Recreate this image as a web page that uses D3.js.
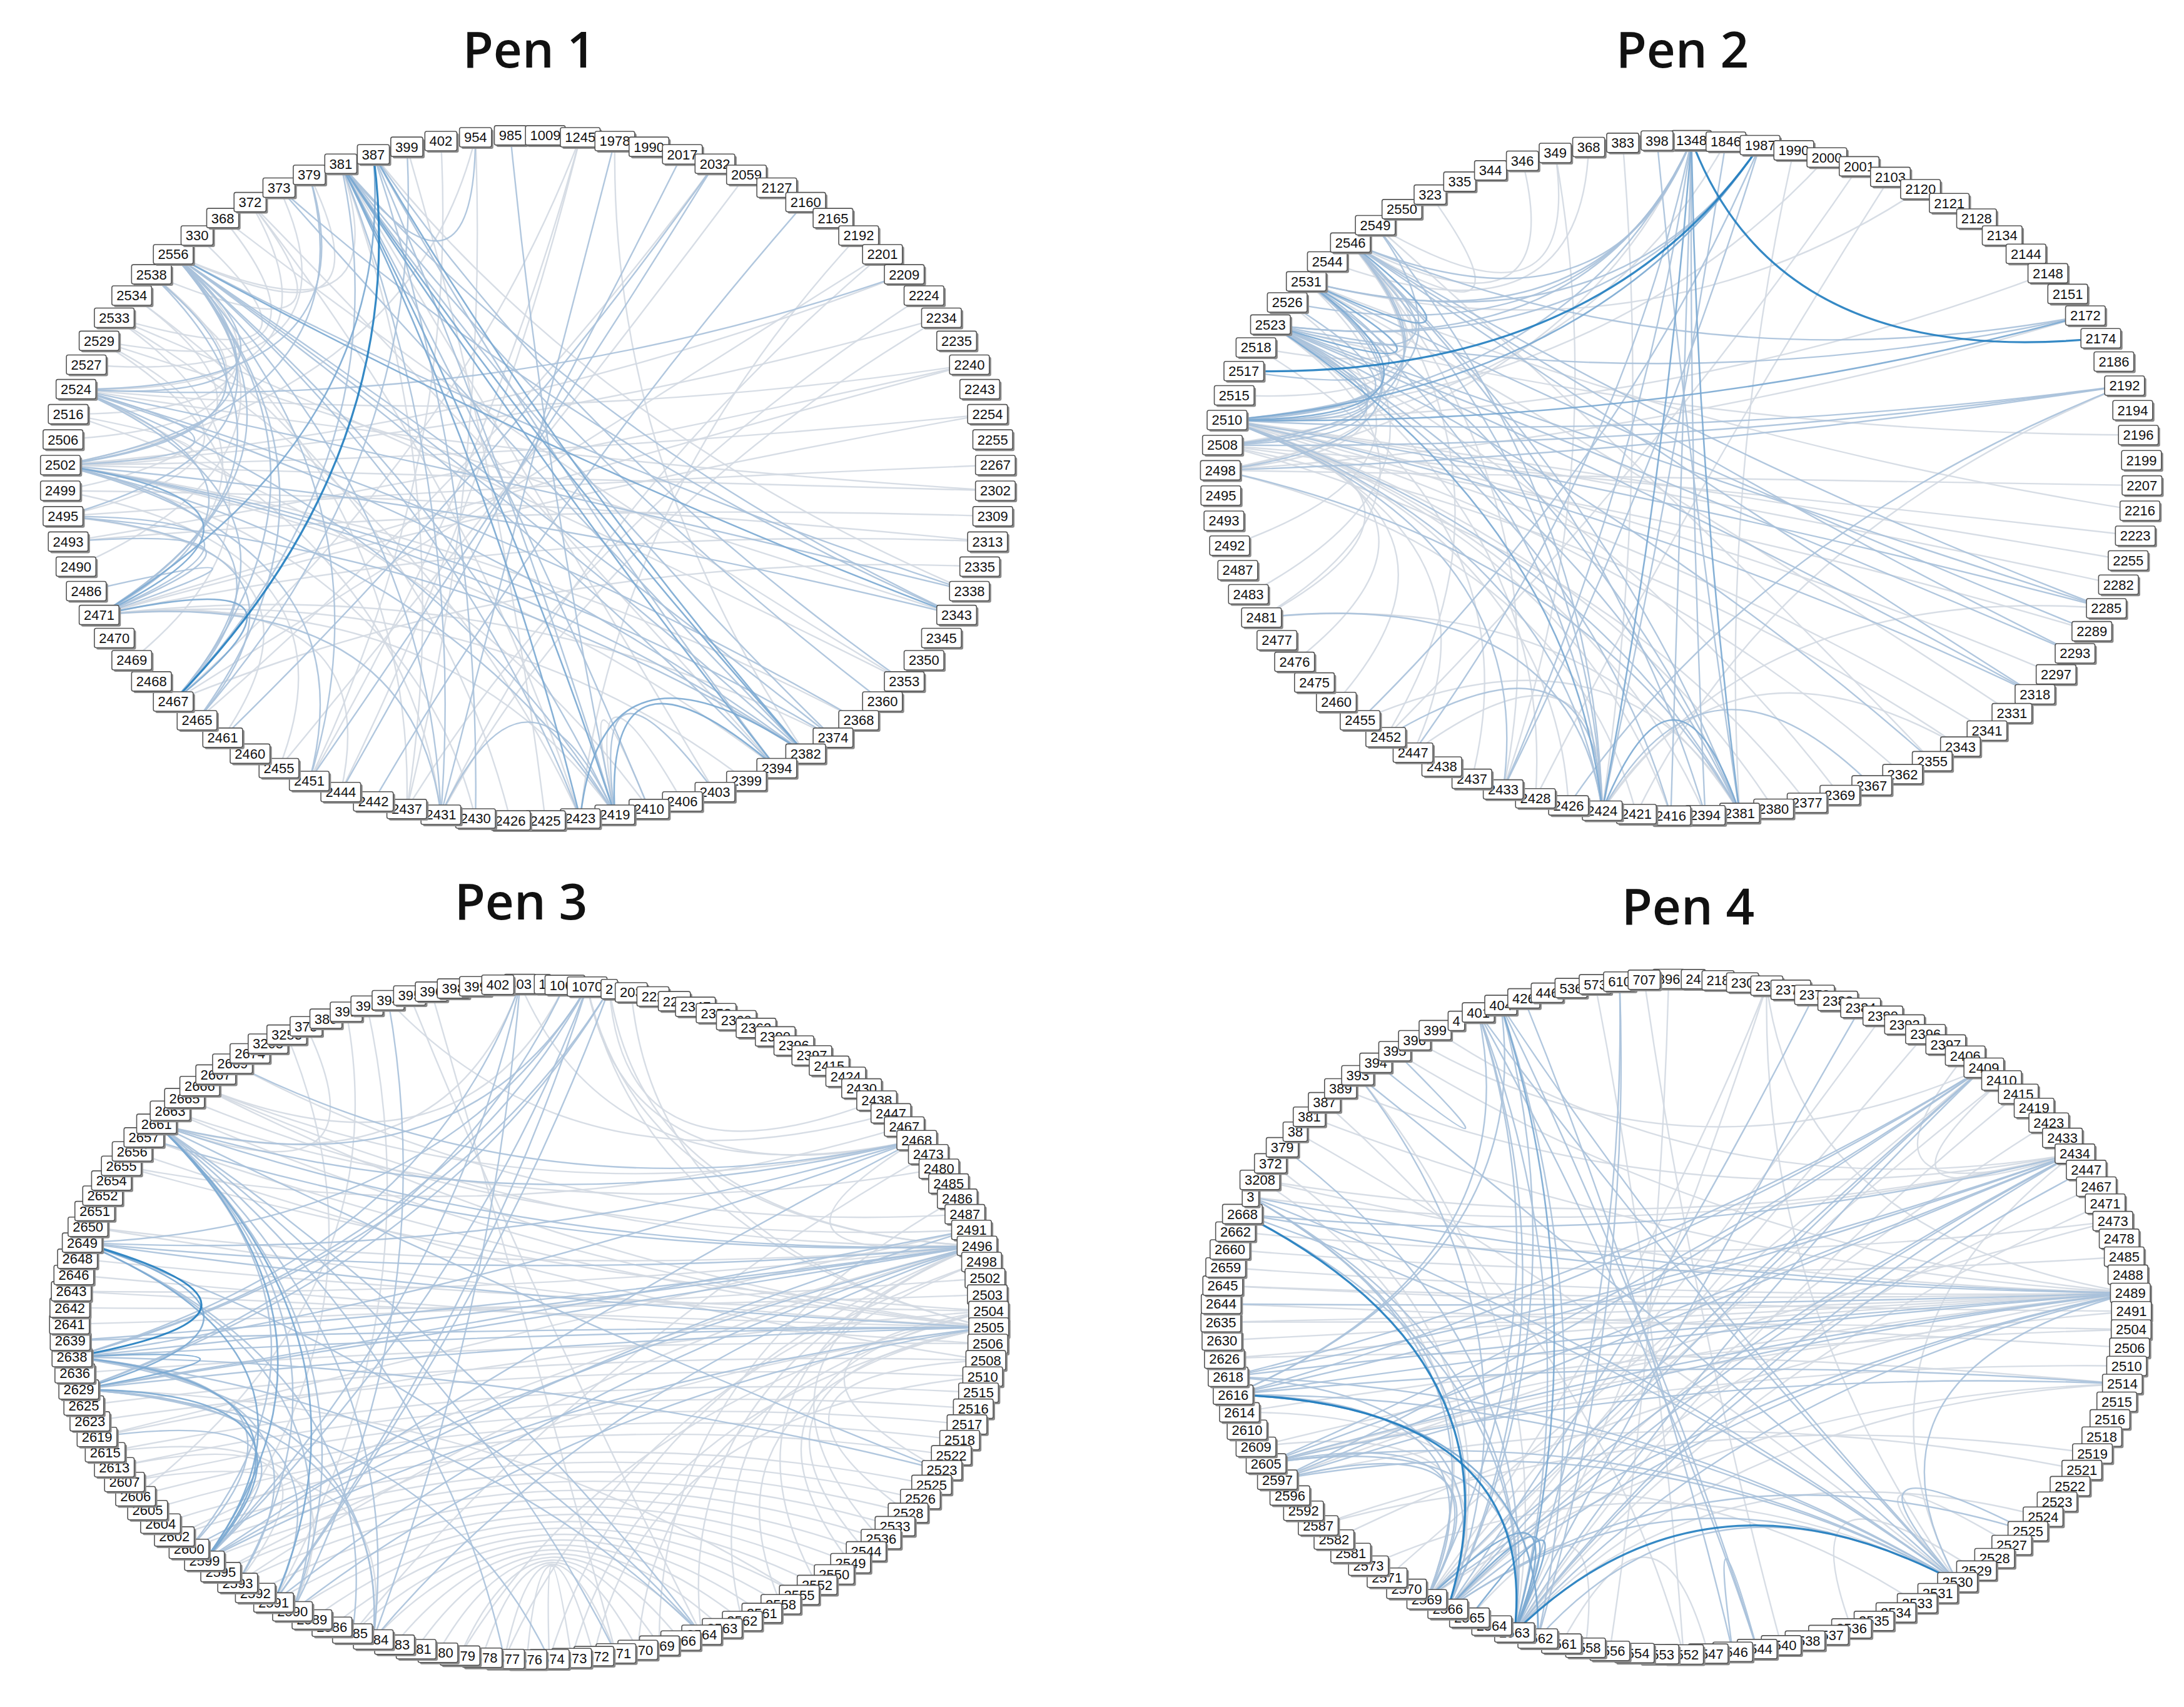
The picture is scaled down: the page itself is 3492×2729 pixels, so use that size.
<!DOCTYPE html>
<html><head><meta charset="utf-8">
<script src="https://cdn.jsdelivr.net/npm/d3@7"></script>
<style>body{margin:0;background:#fff}svg{display:block}</style>
</head><body>
<svg id="c" width="3492" height="2729"></svg>
<script>
const titles = ["Pen 1","Pen 2","Pen 3","Pen 4"];

const nodes1 = ["985","1009","1245","1978","1990","2017","2032","2059","2127","2160","2165","2192","2201","2209","2224","2234","2235","2240","2243","2254","2255","2267","2302","2309","2313","2335","2338","2343","2345","2350","2353","2360","2368","2374","2382","2394","2399","2403","2406","2410","2419","2423","2425","2426","2430","2431","2437","2442","2444","2451","2455","2460","2461","2465","2467","2468","2469","2470","2471","2486","2490","2493","2495","2499","2502","2506","2516","2524","2527","2529","2533","2534","2538","2556","330","368","372","373","379","381","387","399","402","954"];
const nodes2 = ["1348","1846","1987","1990","2000","2001","2103","2120","2121","2128","2134","2144","2148","2151","2172","2174","2186","2192","2194","2196","2199","2207","2216","2223","2255","2282","2285","2289","2293","2297","2318","2331","2341","2343","2355","2362","2367","2369","2377","2380","2381","2394","2416","2421","2424","2426","2428","2433","2437","2438","2447","2452","2455","2460","2475","2476","2477","2481","2483","2487","2492","2493","2495","2498","2508","2510","2515","2517","2518","2523","2526","2531","2544","2546","2549","2550","323","335","344","346","349","368","383","398"];
const nodes3 = ["403","1","1068","1070","2","203","222","225","2347","2358","2360","2362","2390","2396","2397","2415","2424","2430","2438","2447","2467","2468","2473","2480","2485","2486","2487","2491","2496","2498","2502","2503","2504","2505","2506","2508","2510","2515","2516","2517","2518","2522","2523","2525","2526","2528","2533","2536","2544","2549","2550","2552","2555","2558","2561","2562","2563","2564","2566","2569","2570","2571","2572","2573","2574","2576","2577","2578","2579","2580","2581","2583","2584","2585","2586","2589","2590","2591","2592","2593","2595","2599","2600","2602","2604","2605","2606","2607","2613","2615","2619","2623","2625","2629","2636","2638","2639","2641","2642","2643","2646","2648","2649","2650","2651","2652","2654","2655","2656","2657","2661","2663","2665","2666","2667","2669","2674","3208","3253","375","380","391","393","394","395","396","398","399","402"];
const nodes4 = ["896","24","218","230","236","2371","2378","2382","2384","2390","2392","2396","2397","2406","2409","2410","2415","2419","2423","2433","2434","2447","2467","2471","2473","2478","2485","2488","2489","2491","2504","2506","2510","2514","2515","2516","2518","2519","2521","2522","2523","2524","2525","2527","2528","2529","2530","2531","2533","2534","2535","2536","2537","2538","2540","2544","2546","2547","2552","2553","2554","2556","2558","2561","2562","2563","2564","2565","2566","2569","2570","2571","2573","2581","2582","2587","2592","2596","2597","2605","2609","2610","2614","2616","2618","2626","2630","2635","2644","2645","2659","2660","2662","2668","3","3208","372","379","38","381","387","389","393","394","395","396","399","4","401","404","426","446","536","573","610","707"];

const edges1 = [
["381","2382",3],["381","2394",3],["381","2374",2],["381","2360",2],["381","2343",2],["381","2419",3],["381","2423",3],["381","2431",2],["381","2437",1],["381","2410",2],["381","2467",2],["381","954",2],["381","2556",1],["381","2403",1],
["387","2382",3],["387","2394",2],["387","2419",2],["387","2467",4],["387","2471",3],["387","2353",2],["387","2338",1],["387","2430",2],
["379","2502",2],["379","2524",2],["379","2556",1],["399","2465",2],["399","2425",1],["954","2437",1],["954","2502",1],["985","2419",2],
["1245","2451",1],["1245","2444",1],["1245","2467",1],["1978","2382",1],["1978","2431",2],["2017","2444",2],["2032","2451",2],["2032","2461",2],["2032","2465",1],
["2059","2455",1],["2160","2442",2],["2192","2423",1],["2201","2467",1],["2201","2431",1],["2209","2524",2],["2209","2502",1],["2224","2437",1],["2234","2431",1],["2234","2502",1],
["2240","2493",1],["2240","2524",1],["2240","2471",1],["2254","2502",1],["2254","2471",1],["2267","2495",1],["2302","2502",1],["2302","2524",1],["2309","2493",1],["2313","2471",1],["2313","2499",1],
["2335","2467",1],["2338","2524",2],["2338","2556",2],["2343","2556",3],["2343","2502",2],["2343","2529",1],["2353","2533",1],["2368","2524",2],["2368","2502",1],
["2374","2556",2],["2374","2502",2],["2374","2471",1],["2382","2556",2],["2382","2502",2],["2382","2524",2],["2382","2495",2],["2382","2423",3],
["2394","2419",3],["2394","2502",1],["2394","2556",2],["2399","2471",1],["2403","2419",2],["2406","2419",1],["2410","2419",1],["2410","2516",1],
["2419","2556",2],["2419","2524",2],["2419","2502",2],["2419","2431",2],["2419","2471",1],["2423","2556",2],["2423","2533",1],["2426","2534",1],["2430","2502",1],
["2431","2556",2],["2431","2524",1],["2431","2471",2],["2437","2538",1],["2444","2471",1],["2451","2556",2],["2451","2502",2],["2455","2499",1],["2461","2495",1],
["2465","2556",2],["2465","2495",2],["2467","2471",3],["2467","2556",2],["2467","2524",2],["2467","2502",2],["2469","2529",1],
["2471","2556",2],["2471","2524",2],["2471","2502",3],["2471","2495",2],["2471","2493",2],["2471","2538",2],["2471","2533",1],["2471","2486",2],
["2490","2556",1],["2495","2556",2],["2495","2529",1],["2499","2534",1],["2502","2556",2],["2502","2538",2],["2502","2524",2],["2502","2516",1],
["2506","2538",1],["2516","2556",1],["2524","2556",2],["2524","372",1],["2527","373",1],["2529","368",1],["2533","330",1],["2538","372",1],
["373","2382",2],["373","2343",2],["372","2423",1],["372","2394",1],["368","2353",1],["402","2451",1]
];
const edges2 = [
["1348","2174",4],["1348","2424",3],["1348","2381",3],["1348","2394",2],["1348","2416",2],["1348","2510",2],["1348","2523",2],["1348","2531",2],["1348","2546",2],["1348","2498",1],["1348","2447",2],["1348","2433",2],
["1987","2517",4],["1987","2510",3],["1987","2523",2],["1987","2531",2],["1987","2455",2],["1987","2433",2],["1846","2424",2],["1846","2508",1],["1990","2381",1],["2000","2510",1],["2001","2452",1],["2103","2428",1],["2120","2531",1],["2148","2510",1],
["2172","2510",3],["2172","2523",2],["2172","2546",2],["2172","2498",1],["2192","2510",2],["2192","2508",2],["2192","2498",2],["2192","2426",2],["2192","2421",1],
["2196","2523",1],["2207","2498",1],["2216","2531",1],["2223","2508",1],["2255","2510",1],["2282","2510",1],["2285","2510",2],["2285","2523",2],["2285","2546",2],["2285","2424",1],
["2289","2531",2],["2289","2508",1],["2293","2546",2],["2293","2523",2],["2297","2510",1],["2318","2523",2],["2318","2546",2],["2318","2510",2],["2331","2531",1],["2341","2510",1],
["2343","2508",1],["2343","2424",1],["2355","2523",2],["2355","2549",1],["2362","2510",1],["2367","2424",2],["2369","2523",1],["2377","2508",1],["2380","2510",1],
["2381","2424",3],["2381","2510",2],["2381","2546",2],["2381","2523",2],["2381","2531",2],["2381","2498",2],["2381","2481",1],["2381","2455",1],["2394","2546",2],["2394","2510",1],
["2416","2523",2],["2416","2510",1],["2421","2498",1],["2424","2546",2],["2424","2531",2],["2424","2510",2],["2424","2523",3],["2424","2549",2],["2424","2481",2],["2424","2452",2],["2424","2447",1],
["2426","2510",1],["2428","2523",1],["2433","2510",2],["2433","2546",1],["2437","2518",1],["2447","2510",1],["2452","2546",1],["2460","2510",1],["2476","2510",1],["2481","2523",1],["2481","2510",1],
["2483","2531",1],["2492","2526",1],["2498","2531",2],["2498","2546",1],["2498","2523",1],["2508","2546",2],["2508","2531",2],["2508","2523",2],
["2510","2531",3],["2510","2546",2],["2510","2549",2],["2510","2523",2],["2510","2526",2],["2515","2546",1],["2517","2531",2],["2518","2546",1],["2523","2546",2],["2523","2531",3],["2531","2546",3],
["2546","323",1],["2546","346",1],["2544","368",1],["2549","349",1],["2526","1348",2],["398","2381",2],["383","2424",1],["349","2433",1]
];
const edges3 = [
["2661","2599",3],["2661","2591",3],["2661","2584",2],["2661","2571",2],["2661","2564",2],["2661","2523",2],["2661","2496",2],["2661","2468",2],["2661","1070",2],["2661","403",1],["2661","2600",2],["2661","2593",2],["2661","2590",2],["2661","2577",2],
["2657","2496",2],["2657","2505",1],["2656","2508",1],["2655","2504",1],["2650","2505",1],["2650","2496",1],
["2649","2638",4],["2649","2629",3],["2649","2599",3],["2649","2590",2],["2649","2585",2],["2649","2564",2],["2649","2496",2],["2649","2505",2],["2649","2468",2],["2649","1070",2],
["2648","2504",1],["2646","2506",1],["2643","2505",1],["2643","2496",1],["2642","2503",1],["2641","2502",1],["2639","2496",2],["2639","2505",2],
["2638","2629",3],["2638","2599",3],["2638","2593",2],["2638","2584",2],["2638","2564",2],["2638","2523",2],["2638","2505",2],["2638","2496",2],["2638","2468",2],["2638","1070",2],["2638","2",2],["2638","403",2],["2638","2600",2],
["2636","2506",1],["2629","2599",3],["2629","2591",2],["2629","2584",2],["2629","2574",2],["2629","2555",1],["2629","2505",2],["2629","2496",2],["2629","2491",2],["2629","1068",2],["2629","2",2],
["2625","2508",1],["2623","2510",1],["2619","2599",2],["2619","2504",1],["2619","2491",1],["2615","2590",1],["2615","2515",1],["2613","2593",1],["2613","2516",1],["2607","2517",1],["2607","2584",1],
["2606","2518",1],["2605","2522",1],["2604","2525",1],["2602","2526",1],["2602","2496",1],["2600","2528",1],["2600","2496",2],
["2599","2533",1],["2599","2505",2],["2599","2491",2],["2599","2468",2],["2599","1070",2],["2599","403",2],["2595","2536",1],["2595","2505",1],["2593","2544",1],["2593","2496",1],["2592","2549",1],
["2591","2550",1],["2591","2496",2],["2591","1070",2],["2591","2",2],["2590","2552",1],["2590","2505",2],["2590","394",2],["2589","2555",1],["2586","2558",1],["2585","2561",1],["2585","2473",1],
["2584","2562",1],["2584","2496",2],["2584","403",2],["2583","2563",1],["2581","2564",1],["2580","2566",1],["2579","2569",1],["2579","2504",1],["2578","2570",1],["2577","2571",1],["2577","2498",1],
["2576","2572",1],["2574","2573",1],["2574","2496",1],["2573","2505",1],["2572","2510",1],["2570","2504",1],["2569","2486",1],["2564","2496",1],["2564","395",1],["2562","2498",1],
["2558","2505",1],["2552","2496",1],["2549","2504",1],["2544","2505",1],["2536","2496",1],["2528","2508",1],["2523","2504",1],["2496","2468",1],["2496","2666",1],["2505","2666",1],["2505","2663",1],
["2468","2669",2],["2468","2666",1],["2468","1070",1],["2468","403",1],["2467","2655",1],["2480","2663",1],["2491","2665",1],["2487","2669",1],["2447","394",1],["2438","2",1],["2415","2369",1],
["2666","1068",1],["391","2606",1],["393","2591",1],["375","2661",1],["3253","2599",1],["396","2571",1],["1070","2505",1],["1070","2496",1],["2","2496",1],["203","2505",1]
];
const edges4 = [
["2616","2530",2],["2616","2563",4],["2616","2569",2],["2616","2489",2],["2616","2434",2],["2616","2514",2],["2616","2409",2],["2616","404",2],["2616","401",2],["2616","2562",3],
["2618","2489",2],["2618","2434",2],["2618","2409",2],["2618","2566",2],["2618","2530",2],["2626","2489",1],["2626","2514",1],["2630","2489",1],["2635","2489",1],["2635","2504",1],
["2644","2489",2],["2644","2506",1],["2645","2491",1],["2645","2489",1],["2659","2489",1],["2660","2485",1],["2662","2473",1],
["2668","2566",4],["2668","2563",2],["2668","2530",2],["2668","2489",2],["2668","2434",2],["3","2566",2],["3","2563",2],["3","2530",2],["3","2489",2],["3","2434",1],["3","2569",2],
["3208","2569",1],["3208","2489",1],["372","2566",1],["379","2563",2],["38","2530",1],["381","2489",1],["387","2552",1],["389","2434",1],["393","2566",2],["393","2530",2],["393","2563",1],
["394","395",2],["395","2489",1],["396","2409",1],["399","2434",1],
["401","2563",2],["401","2566",2],["401","2530",2],["401","2544",2],["401","2569",2],["404","2563",3],["404","2566",2],["404","2544",2],["404","2530",2],["404","2562",2],
["426","2546",2],["573","2552",1],["610","2562",2],["610","2563",2],["707","2540",1],["896","2556",1],["236","2489",1],["236","2530",1],["236","2563",1],["236","2569",1],
["2378","2566",2],["2384","2563",2],["2390","2569",1],["2396","2566",1],["2406","2434",1],
["2409","2566",2],["2409","2563",2],["2409","2569",2],["2409","2605",2],["2409","2597",2],["2409","2571",1],["2410","2434",1],["2410","2569",1],["2415","2563",1],["2423","2566",1],
["2434","2566",2],["2434","2563",2],["2434","2569",2],["2434","2605",2],["2434","2597",2],["2434","2530",1],["2434","3208",1],["2447","2563",2],["2467","2566",1],["2471","2563",1],["2473","2597",1],
["2489","2566",2],["2489","2563",2],["2489","2569",2],["2489","2530",2],["2489","2605",2],["2489","2597",2],["2489","2609",1],["2489","2582",1],
["2491","2605",1],["2504","2614",1],["2510","2605",1],["2514","2605",2],["2514","2569",1],["2514","2563",1],["2519","2587",1],["2521","2597",1],["2524","2563",1],
["2525","2530",2],["2525","2566",2],["2527","2530",1],["2530","2563",4],["2530","2566",2],["2530","2605",2],["2530","2597",2],["2530","2573",1],["2530","2562",2],
["2529","2536",1],["2533","2587",1],["2544","2546",2],["2547","2561",1],["2558","2565",1],["2563","2565",3],["2563","2569",3],["2563","2566",3],
["2605","2563",2],["2605","2569",2],["2597","2569",2],["2609","2566",1],["2614","2562",1]
];

const panels = [
  {nodes:nodes1, edges:edges1, cx:844, cy:764, rx:748, ry:548, off:-0.5, tx:846, ty:108},
  {nodes:nodes2, edges:edges2, cx:2688, cy:764, rx:737, ry:540, off:0.3, tx:2690, ty:108},
  {nodes:nodes3, edges:edges3, cx:846, cy:2113, rx:735, ry:540, off:-0.4, tx:833, ty:1470},
  {nodes:nodes4, edges:edges4, cx:2680, cy:2105, rx:728, ry:540, off:-0.3, tx:2699, ty:1478}
];

const svg = d3.select("#c");
const color = d3.scaleOrdinal().domain([1,2,3,4]).range(["#d3d9e2","#a9c1da","#7aa8d2","#1f7cbf"]);
const width = d3.scaleOrdinal().domain([1,2,3,4]).range([2.4,2.4,2.6,3.2]);

panels.forEach((p,pi) => {
  const g = svg.append("g");
  g.append("text").attr("x",p.tx).attr("y",p.ty).attr("text-anchor","middle")
    .attr("font-family","'Open Sans', sans-serif").attr("font-size",80).attr("font-weight",600)
    .attr("fill","#111").text(titles[pi]);
  const n = p.nodes.length;
  const ang = d3.scaleLinear().domain([0,n]).range([-Math.PI/2 + p.off*2*Math.PI/n, 1.5*Math.PI + p.off*2*Math.PI/n]);
  const pos = new Map();
  p.nodes.forEach((d,i)=>{const a=ang(i); pos.set(d,[p.cx+p.rx*Math.cos(a), p.cy+p.ry*Math.sin(a)]);});
  const edges = p.edges.filter(e=>pos.has(e[0])&&pos.has(e[1])).sort((a,b)=>a[2]-b[2]);
  const k = 0.55;
  g.append("g").selectAll("path").data(edges).join("path")
    .attr("d", e => {
      const a=pos.get(e[0]), b=pos.get(e[1]);
      const mx=(a[0]+b[0])/2, my=(a[1]+b[1])/2;
      const qx=mx+(p.cx-mx)*k, qy=my+(p.cy-my)*k;
      const path=d3.path(); path.moveTo(a[0],a[1]); path.quadraticCurveTo(qx,qy,b[0],b[1]); return path.toString();
    })
    .attr("fill","none").attr("stroke",e=>color(e[2])).attr("stroke-width",e=>width(e[2])).attr("stroke-opacity",0.9);
  const lg = g.append("g").selectAll("g").data(p.nodes).join("g")
    .attr("transform", d=>`translate(${pos.get(d)[0]},${pos.get(d)[1]})`);
  const bw = d => d.length*12.4+14, bh = 31;
  lg.append("rect").attr("x",d=>-bw(d)/2+3).attr("y",-bh/2+3).attr("width",bw).attr("height",bh)
    .attr("rx",3).attr("fill","#8a8a8a");
  lg.append("rect").attr("x",d=>-bw(d)/2).attr("y",-bh/2).attr("width",bw).attr("height",bh)
    .attr("rx",3).attr("fill","#fff").attr("stroke","#555").attr("stroke-width",1.6);
  lg.append("text").attr("text-anchor","middle").attr("dy","0.36em")
    .attr("font-family","'Liberation Sans', Arial, sans-serif").attr("font-size",22).attr("fill","#111").text(d=>d);
});
</script>
</body></html>
